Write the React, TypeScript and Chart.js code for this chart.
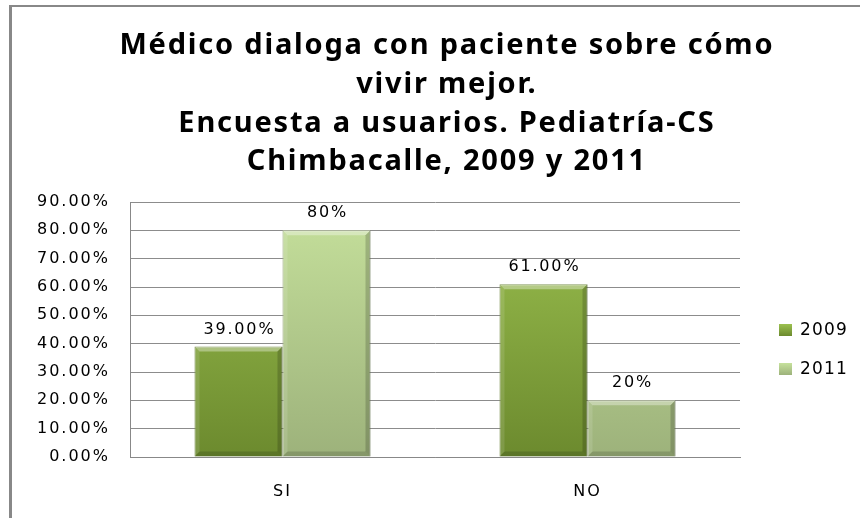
import React, { useEffect, useRef } from "react";
import { Chart, registerables } from "chart.js";

Chart.register(...registerables);

const categories = ["SI", "NO"];
const seriesNames = ["2009", "2011"];
const values2009 = [39, 61];
const values2011 = [80, 20];
const labels2009 = ["39.00%", "61.00%"];
const labels2011 = ["80%", "20%"];
const titleLines = [
  "Médico dialoga con paciente sobre cómo",
  "vivir mejor.",
  "Encuesta a usuarios. Pediatría-CS",
  "Chimbacalle, 2009 y 2011",
];
const yMax = 90;
const yStep = 10;

const BODY_FONT = "'DejaVu Sans', Verdana, sans-serif";
const TITLE_FONT = "'Noto Sans', 'Open Sans', sans-serif";

const palette = [
  { top: "#9cc150", bottom: "#6c8a2e", edge: "#5d7826" },
  { top: "#c6e19c", bottom: "#9db27b", edge: "#8a9d6a" },
];

function makeGradient(ctx: any, area: any, idx: number) {
  if (!area) return palette[idx].top;
  const g = ctx.createLinearGradient(0, area.top, 0, area.bottom);
  g.addColorStop(0, palette[idx].top);
  g.addColorStop(1, palette[idx].bottom);
  return g;
}

function spacingFor(ctx: any, font: string, text: string, target: number) {
  ctx.save();
  ctx.letterSpacing = "0px";
  ctx.font = font;
  const w = ctx.measureText(text).width;
  ctx.restore();
  return Math.max(0, (target - w) / text.length);
}

const framePlugin = {
  id: "frame",
  beforeDraw(chart: any) {
    const ctx = chart.ctx;
    ctx.save();
    ctx.fillStyle = "#ffffff";
    ctx.fillRect(0, 0, chart.width, chart.height);
    ctx.fillStyle = "#888888";
    ctx.fillRect(9, 5, 3, chart.height - 5);
    ctx.fillRect(9, 5, chart.width - 9, 2);
    ctx.restore();
    const sp = spacingFor(ctx, "16px " + BODY_FONT, "90.00%", 73);
    ctx.letterSpacing = sp.toFixed(2) + "px";
  },
};

const titlePlugin = {
  id: "customTitle",
  afterDraw(chart: any) {
    const ctx = chart.ctx;
    const font = "bold 29px " + TITLE_FONT;
    const sp = spacingFor(ctx, font, titleLines[0], 655);
    ctx.save();
    ctx.letterSpacing = sp.toFixed(2) + "px";
    ctx.fillStyle = "#000000";
    ctx.textAlign = "center";
    ctx.textBaseline = "alphabetic";
    ctx.font = font;
    const baselines = [54, 93, 132, 170];
    titleLines.forEach((t, i) => ctx.fillText(t, 446 + sp / 2, baselines[i]));
    ctx.restore();
    ctx.letterSpacing = "0px";
  },
};

const valueLabelPlugin = {
  id: "valueLabels",
  afterDatasetsDraw(chart: any) {
    const ctx = chart.ctx;
    const texts = [labels2009, labels2011];
    const font = "16px " + BODY_FONT;
    const sp = spacingFor(ctx, font, "39.00%", 72);
    ctx.save();
    ctx.letterSpacing = sp.toFixed(2) + "px";
    ctx.fillStyle = "#000000";
    ctx.font = font;
    ctx.textAlign = "center";
    ctx.textBaseline = "middle";
    chart.data.datasets.forEach((_: any, di: number) => {
      const meta = chart.getDatasetMeta(di);
      meta.data.forEach((bar: any, i: number) => {
        ctx.fillText(texts[di][i], bar.x + sp / 2, bar.y - 17);
      });
    });
    ctx.restore();
  },
};

const bevelPlugin = {
  id: "bevel",
  afterDatasetsDraw(chart: any) {
    const ctx = chart.ctx;
    ctx.save();
    chart.data.datasets.forEach((_: any, di: number) => {
      const meta = chart.getDatasetMeta(di);
      meta.data.forEach((bar: any) => {
        const left = bar.x - bar.width / 2;
        const right = bar.x + bar.width / 2;
        const top = bar.y;
        const bottom = bar.base;
        const b = 5;
        ctx.fillStyle = "rgba(255,255,255,0.35)";
        ctx.beginPath();
        ctx.moveTo(left, top);
        ctx.lineTo(right, top);
        ctx.lineTo(right - b, top + b);
        ctx.lineTo(left + b, top + b);
        ctx.closePath();
        ctx.fill();
        ctx.fillStyle = "rgba(0,0,0,0.18)";
        ctx.beginPath();
        ctx.moveTo(right, top);
        ctx.lineTo(right, bottom);
        ctx.lineTo(right - b, bottom - b);
        ctx.lineTo(right - b, top + b);
        ctx.closePath();
        ctx.fill();
        ctx.fillStyle = "rgba(0,0,0,0.15)";
        ctx.beginPath();
        ctx.moveTo(left, bottom);
        ctx.lineTo(right, bottom);
        ctx.lineTo(right - b, bottom - b);
        ctx.lineTo(left + b, bottom - b);
        ctx.closePath();
        ctx.fill();
        ctx.fillStyle = "rgba(255,255,255,0.12)";
        ctx.beginPath();
        ctx.moveTo(left, top);
        ctx.lineTo(left, bottom);
        ctx.lineTo(left + b, bottom - b);
        ctx.lineTo(left + b, top + b);
        ctx.closePath();
        ctx.fill();
      });
    });
    ctx.restore();
  },
};

const legendPlugin = {
  id: "customLegend",
  afterDraw(chart: any) {
    const ctx = chart.ctx;
    const font = "17px " + BODY_FONT;
    const sp = spacingFor(ctx, font, "2009", 48);
    ctx.save();
    ctx.letterSpacing = sp.toFixed(2) + "px";
    ctx.font = font;
    ctx.textBaseline = "middle";
    ctx.textAlign = "left";
    const ys = [330, 369];
    seriesNames.forEach((name, i) => {
      const g = ctx.createLinearGradient(0, ys[i] - 6, 0, ys[i] + 6);
      g.addColorStop(0, palette[i].top);
      g.addColorStop(1, palette[i].bottom);
      ctx.fillStyle = g;
      ctx.fillRect(779, ys[i] - 6, 13, 12);
      ctx.fillStyle = "#000000";
      ctx.fillText(name, 800, ys[i] + 1);
    });
    ctx.restore();
  },
};

export default function App() {
  const canvasRef = useRef<HTMLCanvasElement | null>(null);

  useEffect(() => {
    const canvas = canvasRef.current;
    if (!canvas) return;
    const chart = new Chart(canvas, {
      type: "bar",
      data: {
        labels: categories,
        datasets: [
          {
            label: seriesNames[0],
            data: values2009,
            backgroundColor: (c: any) => makeGradient(c.chart.ctx, c.chart.chartArea, 0),
            borderColor: palette[0].edge,
            borderWidth: 1,
            categoryPercentage: 0.577,
            barPercentage: 1,
          },
          {
            label: seriesNames[1],
            data: values2011,
            backgroundColor: (c: any) => makeGradient(c.chart.ctx, c.chart.chartArea, 1),
            borderColor: palette[1].edge,
            borderWidth: 1,
            categoryPercentage: 0.577,
            barPercentage: 1,
          },
        ],
      },
      options: {
        animation: false,
        responsive: false,
        maintainAspectRatio: false,
        layout: { padding: { top: 202, right: 120, left: 0, bottom: 0 } },
        plugins: {
          legend: { display: false },
          title: { display: false },
          tooltip: { enabled: false },
        },
        scales: {
          x: {
            grid: { display: false, drawTicks: false },
            border: { display: true, color: "#888888", width: 1 },
            ticks: {
              color: "#000000",
              font: { family: BODY_FONT, size: 16 },
              padding: 25,
            },
            afterFit: (s: any) => {
              s.height = 61;
            },
          },
          y: {
            min: 0,
            max: yMax,
            grid: { color: "#8c8c8c", lineWidth: 1, drawTicks: false },
            border: { display: true, color: "#888888", width: 1 },
            ticks: {
              stepSize: yStep,
              color: "#000000",
              font: { family: BODY_FONT, size: 16 },
              padding: 20,
              callback: (v: any) => Number(v).toFixed(2) + "%",
            },
            afterFit: (s: any) => {
              s.width = 130;
            },
          },
        },
      },
      plugins: [framePlugin, bevelPlugin, valueLabelPlugin, legendPlugin, titlePlugin],
    });
    return () => chart.destroy();
  }, []);

  return (
    <div style={{ position: "fixed", left: 0, top: 0, width: 860, height: 518, background: "#fff" }}>
      <canvas ref={canvasRef} width={860} height={518} style={{ width: 860, height: 518, display: "block" }} />
    </div>
  );
}
